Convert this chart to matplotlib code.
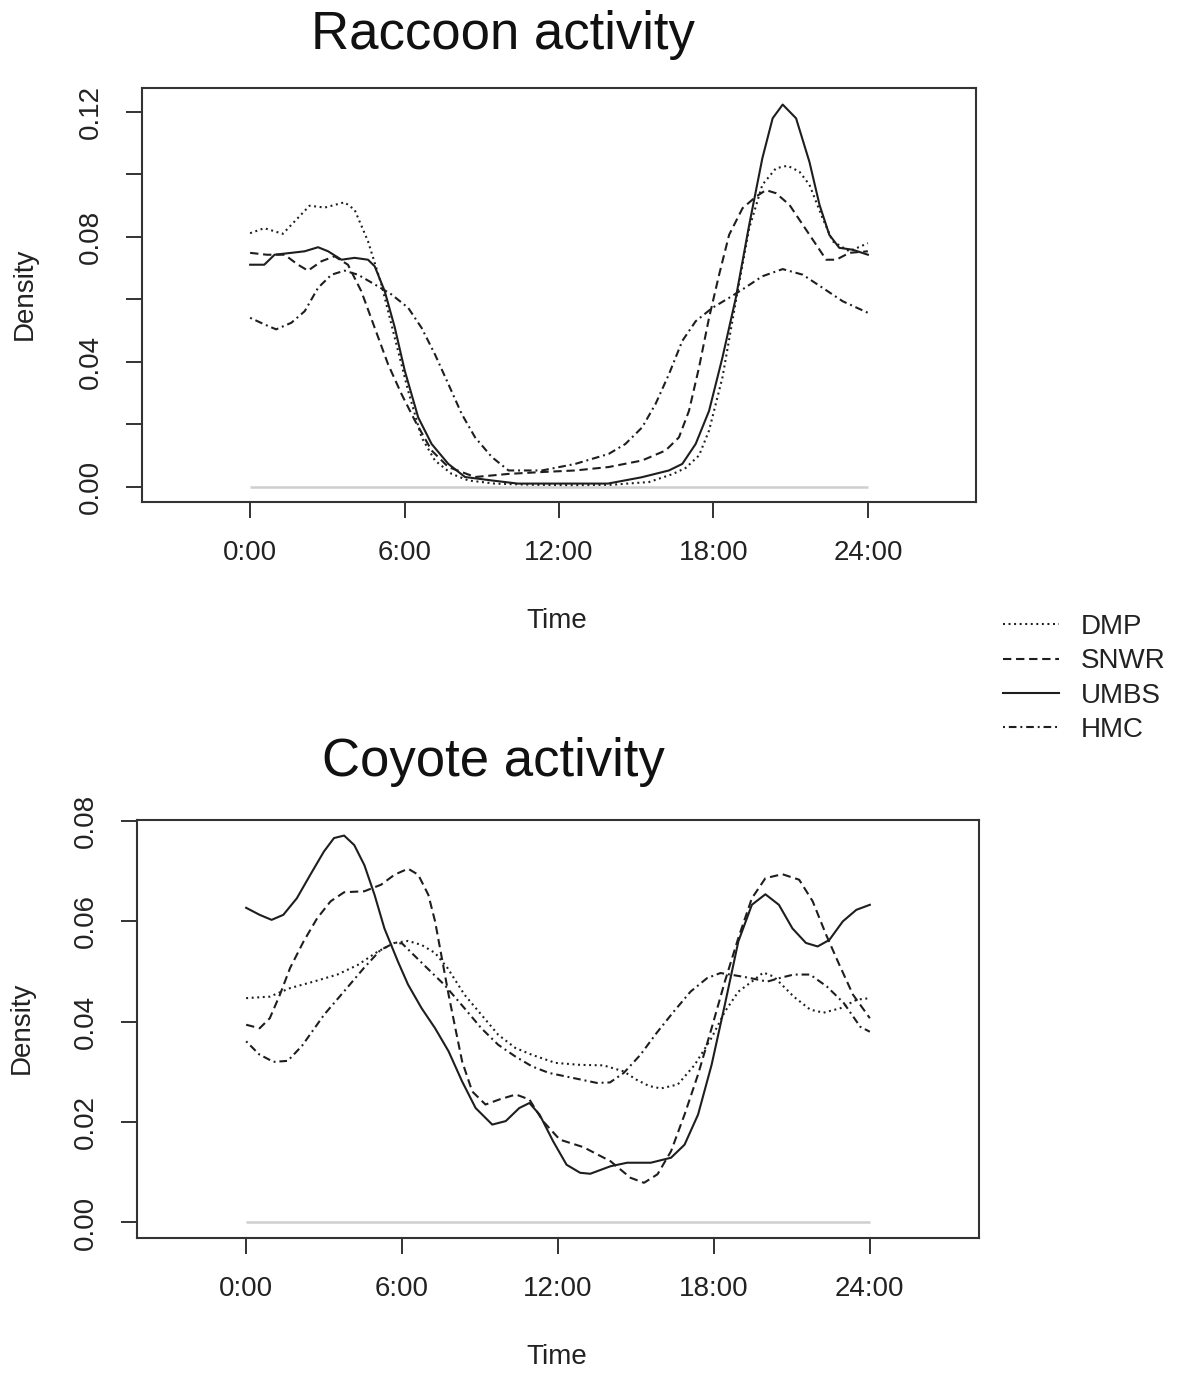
import matplotlib
matplotlib.use("Agg")
import matplotlib.pyplot as plt
from matplotlib.lines import Line2D

plt.rcParams['font.family'] = ['Liberation Sans', 'DejaVu Sans']
plt.rcParams['lines.scale_dashes'] = False

# ---------------- data (hours, density) ----------------
sites = ["DMP", "SNWR", "UMBS", "HMC"]
tick_hours = [0, 6, 12, 18, 24]
tick_labels = ["0:00", "6:00", "12:00", "18:00", "24:00"]

# Raccoon
rac_dmp_t = [0.0, 0.55, 1.27, 1.79, 2.31, 2.9, 3.67, 4.06, 4.58, 5.1, 5.62, 6.14, 6.66, 7.18, 7.83, 8.48,
             9.5, 11.0, 12.5, 14.0, 15.5, 16.4, 16.92, 17.44, 17.83, 18.35, 18.87, 19.39, 19.9, 20.43,
             20.88, 21.34, 21.73, 22.24, 22.63, 23.28, 24.0]
rac_dmp_y = [0.0812, 0.0828, 0.0810, 0.0855, 0.0900, 0.0894, 0.0911, 0.0887, 0.0786, 0.0648, 0.0477, 0.0307,
             0.0158, 0.0084, 0.0041, 0.0020, 0.0010, 0.0006, 0.0005, 0.0006, 0.0015, 0.0040, 0.0060, 0.0100,
             0.0180, 0.0350, 0.0594, 0.0828, 0.0967, 0.1020, 0.1028, 0.1009, 0.0967, 0.0860, 0.0786,
             0.0754, 0.0780]

rac_snwr_t = [0.0, 0.65, 1.34, 1.86, 2.25, 2.77, 3.28, 3.8, 4.32, 4.84, 5.36, 5.88, 6.4, 7.05, 7.7, 8.74,
              10.04, 11.34, 12.63, 13.93, 15.23, 16.14, 16.66, 17.05, 17.44, 17.83, 18.22, 18.61, 19.13,
              19.65, 20.04, 20.43, 20.95, 21.47, 21.99, 22.38, 22.77, 23.28, 24.0]
rac_snwr_y = [0.0749, 0.0743, 0.0743, 0.0711, 0.0692, 0.0722, 0.0738, 0.0711, 0.0626, 0.0509, 0.0392,
              0.0297, 0.0212, 0.0116, 0.0063, 0.0031, 0.0041, 0.0047, 0.0052, 0.0063, 0.0084, 0.0116,
              0.0158, 0.0243, 0.0382, 0.0541, 0.0679, 0.0807, 0.0892, 0.0929, 0.0950, 0.0940, 0.0903,
              0.0839, 0.0775, 0.0727, 0.0727, 0.0749, 0.0754]

rac_umbs_t = [0.0, 0.55, 0.95, 1.6, 2.12, 2.64, 3.03, 3.55, 4.06, 4.58, 4.84, 5.23, 5.62, 6.01, 6.53, 7.05,
              7.7, 8.35, 9.39, 10.4, 12.0, 13.9, 15.2, 16.27, 16.79, 17.31, 17.83, 18.35, 18.87, 19.39,
              19.9, 20.3, 20.69, 21.21, 21.73, 22.12, 22.5, 22.89, 23.41, 24.0]
rac_umbs_y = [0.0711, 0.0711, 0.0743, 0.0749, 0.0754, 0.0767, 0.0754, 0.0727, 0.0733, 0.0727, 0.0706,
              0.0626, 0.0510, 0.0371, 0.0222, 0.0137, 0.0073, 0.0031, 0.0020, 0.0010, 0.0010, 0.0010,
              0.0030, 0.0052, 0.0073, 0.0137, 0.0243, 0.0414, 0.0605, 0.0839, 0.1052, 0.1180, 0.1224,
              0.1180, 0.1040, 0.0903, 0.0807, 0.0765, 0.0759, 0.0743]

rac_hmc_t = [0.0, 0.55, 1.01, 1.6, 2.12, 2.64, 3.16, 3.67, 4.19, 4.84, 5.49, 6.14, 6.66, 7.18, 7.7, 8.22,
             8.74, 9.39, 10.04, 11.34, 12.63, 13.93, 14.58, 15.23, 15.75, 16.27, 16.79, 17.31, 17.96,
             18.61, 19.13, 19.9, 20.69, 21.47, 22.24, 23.02, 24.0]
rac_hmc_y = [0.0541, 0.0520, 0.0504, 0.0525, 0.0562, 0.0637, 0.0679, 0.0692, 0.0679, 0.0648, 0.0616,
             0.0573, 0.0509, 0.0424, 0.0329, 0.0233, 0.0158, 0.0095, 0.0052, 0.0052, 0.0073, 0.0105,
             0.0137, 0.0190, 0.0265, 0.0360, 0.0467, 0.0530, 0.0573, 0.0605, 0.0632, 0.0674, 0.0697,
             0.0679, 0.0637, 0.0594, 0.0557]

# Coyote
coy_dmp_t = [0.0, 0.91, 1.69, 2.6, 3.51, 4.29, 5.07, 5.71, 6.23, 6.75, 7.27, 7.75, 8.4, 9.05, 9.7, 10.35,
             11.0, 11.9, 12.85, 13.75, 14.53, 15.0, 15.5, 15.96, 16.61, 17.26, 17.91, 18.42, 18.94, 19.46,
             19.9, 20.3, 21.07, 21.71, 22.22, 22.87, 23.5, 24.0]
coy_dmp_y = [0.0447, 0.0450, 0.0467, 0.0480, 0.0494, 0.0513, 0.0540, 0.0557, 0.0561, 0.0553, 0.0537,
             0.0507, 0.0454, 0.0414, 0.0374, 0.0348, 0.0334, 0.0318, 0.0314, 0.0313, 0.0301, 0.0285,
             0.0272, 0.0267, 0.0275, 0.0314, 0.0368, 0.0420, 0.0460, 0.0480, 0.0498, 0.0490, 0.0450,
             0.0424, 0.0418, 0.0427, 0.0444, 0.0447]

coy_snwr_t = [0.0, 0.52, 0.91, 1.3, 1.69, 2.21, 2.73, 3.25, 3.77, 4.55, 5.19, 5.71, 6.23, 6.62, 7.01, 7.27,
              7.53, 7.79, 8.05, 8.31, 8.7, 9.21, 9.74, 10.38, 10.9, 11.42, 12.07, 12.98, 14.02, 14.79,
              15.31, 15.83, 16.35, 16.87, 17.39, 17.91, 18.42, 18.94, 19.46, 19.98, 20.63, 21.28, 21.8,
              22.32, 22.83, 23.35, 24.0]
coy_snwr_y = [0.0394, 0.0387, 0.0407, 0.0454, 0.0507, 0.0560, 0.0606, 0.0640, 0.0658, 0.0660, 0.0673,
              0.0693, 0.0705, 0.0693, 0.0653, 0.0600, 0.0527, 0.0454, 0.0387, 0.0321, 0.0261, 0.0235,
              0.0245, 0.0255, 0.0245, 0.0202, 0.0165, 0.0150, 0.0122, 0.0089, 0.0079, 0.0096, 0.0142,
              0.0215, 0.0295, 0.0387, 0.0480, 0.0567, 0.0646, 0.0686, 0.0694, 0.0683, 0.0640, 0.0573,
              0.0513, 0.0454, 0.0407]

coy_umbs_t = [0.0, 0.52, 0.98, 1.43, 1.95, 2.47, 2.99, 3.38, 3.77, 4.16, 4.55, 4.94, 5.32, 5.84, 6.23, 6.75,
              7.27, 7.79, 8.31, 8.83, 9.47, 9.99, 10.51, 10.9, 11.29, 11.81, 12.33, 12.85, 13.24, 14.02,
              14.66, 15.57, 16.35, 16.87, 17.39, 17.91, 18.42, 18.94, 19.46, 19.98, 20.5, 21.02, 21.54,
              21.99, 22.44, 22.96, 23.48, 24.0]
coy_umbs_y = [0.0627, 0.0613, 0.0603, 0.0613, 0.0646, 0.0693, 0.0739, 0.0766, 0.0771, 0.0752, 0.0712,
              0.0653, 0.0586, 0.0520, 0.0474, 0.0427, 0.0387, 0.0341, 0.0281, 0.0228, 0.0195, 0.0202,
              0.0228, 0.0238, 0.0215, 0.0162, 0.0115, 0.0099, 0.0097, 0.0112, 0.0119, 0.0119, 0.0129,
              0.0155, 0.0215, 0.0314, 0.0434, 0.0560, 0.0633, 0.0654, 0.0633, 0.0586, 0.0557, 0.0550,
              0.0563, 0.0600, 0.0623, 0.0633]

coy_hmc_t = [0.0, 0.5, 1.05, 1.6, 2.15, 3.0, 3.76, 4.53, 5.17, 5.7, 6.0, 6.45, 7.1, 7.62, 8.4, 9.05, 9.7,
             10.35, 11.0, 11.65, 12.85, 13.5, 14.0, 14.53, 15.17, 15.8, 16.45, 17.1, 17.74, 18.25, 18.63,
             19.3, 20.05, 20.6, 21.07, 21.7, 22.35, 23.0, 23.63, 24.0]
coy_hmc_y = [0.0361, 0.0335, 0.0320, 0.0322, 0.0352, 0.0414, 0.0460, 0.0507, 0.0543, 0.0557, 0.0556,
             0.0533, 0.0500, 0.0474, 0.0427, 0.0387, 0.0354, 0.0331, 0.0311, 0.0298, 0.0285, 0.0278,
             0.0279, 0.0298, 0.0334, 0.0378, 0.0420, 0.0460, 0.0487, 0.0497, 0.0494, 0.0488, 0.0480,
             0.0488, 0.0494, 0.0494, 0.0470, 0.0437, 0.0390, 0.0380]

# ---------------- styles ----------------
LC = '#1e1e1e'
LW = 1.5
styles = {
    "DMP": dict(linestyle=(0, (1.4, 2.6))),
    "SNWR": dict(linestyle=(0, (6.0, 3.4))),
    "UMBS": dict(linestyle='-'),
    "HMC": dict(linestyle=(0, (1.4, 2.8, 5.5, 2.8))),
}

W, H = 1179, 1376
fig = plt.figure(figsize=(W / 100, H / 100), dpi=100)


def px_axes(l, t, r, b):
    return fig.add_axes([l / W, 1 - b / H, (r - l) / W, (b - t) / H])


def draw(ax, series, ylim, yticks, ylabels):
    ax.hlines(0, tick_hours[0], tick_hours[-1], color='#cfcfcf', lw=1.8, zorder=1)
    for name, (t, y) in zip(sites, series):
        ax.plot(t, y, color=LC, lw=LW, zorder=2, **styles[name])
    ax.set_xlim(-4.2, 28.2)
    ax.set_ylim(*ylim)
    ax.set_xticks(tick_hours)
    ax.set_xticklabels(tick_labels)
    ax.set_yticks(yticks)
    ax.set_yticklabels(ylabels, rotation=90, va='center')
    ax.tick_params(axis='both', length=11.5, width=1.4, color='#333333', labelsize=20,
                   labelcolor='#222222', pad=16)
    for s in ax.spines.values():
        s.set_linewidth(1.5)
        s.set_color('#333333')


ax1 = px_axes(142, 88, 976, 502)
rac_yt = [0.0, 0.02, 0.04, 0.06, 0.08, 0.10, 0.12]
rac_yl = ["0.00", "", "0.04", "", "0.08", "", "0.12"]
draw(ax1, [(rac_dmp_t, rac_dmp_y), (rac_snwr_t, rac_snwr_y), (rac_umbs_t, rac_umbs_y),
           (rac_hmc_t, rac_hmc_y)], (-0.0049, 0.1277), rac_yt, rac_yl)

ax2 = px_axes(137, 820, 979, 1238)
coy_yt = [0.0, 0.02, 0.04, 0.06, 0.08]
coy_yl = ["0.00", "0.02", "0.04", "0.06", "0.08"]
draw(ax2, [(coy_dmp_t, coy_dmp_y), (coy_snwr_t, coy_snwr_y), (coy_umbs_t, coy_umbs_y),
           (coy_hmc_t, coy_hmc_y)], (-0.0031, 0.0802), coy_yt, coy_yl)

# titles and axis labels
fig.text(503 / W, 1 - 35 / H, "Raccoon activity", fontsize=38, ha='center', va='center', color='#111111')
fig.text(493 / W, 1 - 762 / H, "Coyote activity", fontsize=38, ha='center', va='center', color='#111111')
fig.text(557 / W, 1 - 621 / H, "Time", fontsize=20, ha='center', va='center', color='#222222')
fig.text(557 / W, 1 - 1357 / H, "Time", fontsize=20, ha='center', va='center', color='#222222')
fig.text(25 / W, 1 - 294 / H, "Density", fontsize=20, ha='center', va='center', rotation=90, color='#222222')
fig.text(22 / W, 1 - 1028 / H, "Density", fontsize=20, ha='center', va='center', rotation=90, color='#222222')

# legend
handles = [Line2D([], [], color=LC, lw=LW, **styles[n]) for n in sites]
fig.legend(handles, sites, loc='upper left', bbox_to_anchor=(1003 / W, 1 - 614 / H), frameon=False,
           fontsize=20, handlelength=2.0, handletextpad=0.8, labelspacing=0.3, borderpad=0,
           borderaxespad=0, labelcolor='#222222')

fig.savefig("out.png", dpi=100, facecolor='white')
